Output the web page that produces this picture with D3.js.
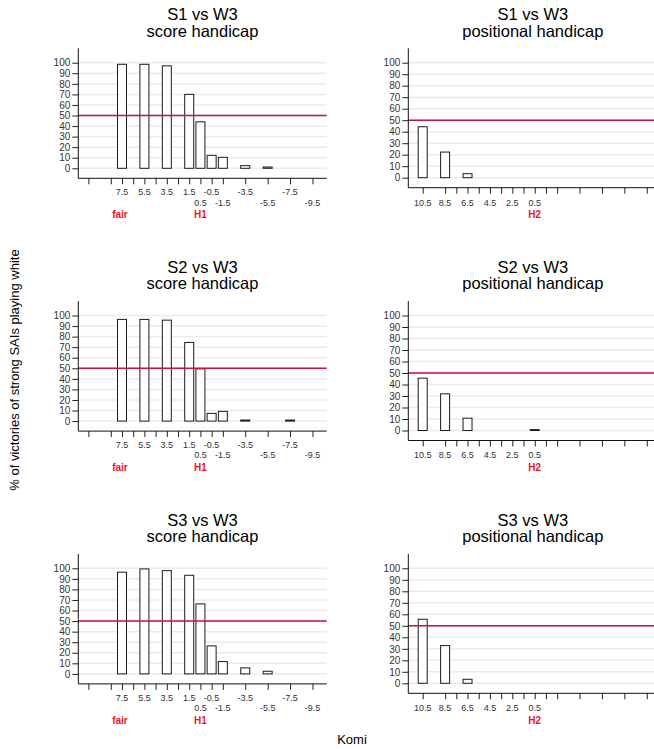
<!DOCTYPE html>
<html>
<head>
<meta charset="utf-8">
<script src="https://cdn.jsdelivr.net/npm/d3@7"></script>
<style>
  body { margin: 0; background: #fff; }
  svg { font-family: "Liberation Sans", Arial, sans-serif; }
</style>
</head>
<body>
<div id="chart"></div>
<script>
// komi values tested
var scoreKomi = [7.5, 5.5, 3.5, 1.5, 0.5, -0.5, -1.5, -3.5, -5.5, -7.5, -9.5];
var posKomi = [10.5, 8.5, 6.5, 4.5, 2.5, 0.5];
var tickKomi = [10.5, 8.5, 7.5, 6.5, 5.5, 4.5, 3.5, 2.5, 1.5, 0.5, -0.5, -1.5, -3.5, -5.5, -7.5, -9.5];
var yTicks = [0, 10, 20, 30, 40, 50, 60, 70, 80, 90, 100];

// score labels split on two rows
var scoreLabelsTop = [7.5, 5.5, 3.5, 1.5, -0.5, -3.5, -7.5];
var scoreLabelsBottom = [0.5, -1.5, -5.5, -9.5];
var posLabels = [10.5, 8.5, 6.5, 4.5, 2.5, 0.5];

// % of victories of strong SAI playing white
var s1Score = [98.5, 98.5, 97, 70, 44, 12.3, 10.4, 2.5, 1.2, 0, 0];
var s2Score = [96.3, 96.3, 95.6, 74.5, 49.5, 7.3, 9.2, 1, 0, 1, 0];
var s3Score = [96.3, 99.4, 97.8, 93.4, 66.3, 26.5, 11.7, 5.7, 2.5, 0, 0];
var s1Pos = [44.3, 22.3, 3.5, 0, 0, 0];
var s2Pos = [45.5, 31.9, 10.7, 0, 0, 0.8];
var s3Pos = [55.7, 32.8, 3.5, 0, 0, 0];

var players = ["S1", "S2", "S3"];
var scoreSeries = [s1Score, s2Score, s3Score];
var posSeries = [s1Pos, s2Pos, s3Pos];

var width = 654, height = 749;
var rowStep = 252.8;

var svg = d3.select("#chart").append("svg")
  .attr("width", width)
  .attr("height", height);

function drawPanel(opt) {
  var g = svg.append("g");

  var x = d3.scaleLinear()
    .domain(opt.xDomain)
    .range([opt.left, opt.right]);

  // fixed pixel padding below 0 and above 100
  var y = d3.scaleLinear()
    .domain([0, 100])
    .range([opt.bottom - 10, opt.top + 14.4]);

  // grid
  g.append("g").selectAll("line")
    .data(yTicks)
    .enter().append("line")
    .attr("x1", opt.left)
    .attr("x2", opt.right)
    .attr("y1", function(d) { return y(d); })
    .attr("y2", function(d) { return y(d); })
    .attr("stroke", "#ebebeb")
    .attr("stroke-width", 1.5);

  // bars
  var bw = 9;
  var bars = opt.komi.map(function(k, i) { return {k: k, v: opt.values[i]}; })
    .filter(function(d) { return d.v > 0; });

  g.append("g").selectAll("rect")
    .data(bars)
    .enter().append("rect")
    .attr("x", function(d) { return x(d.k) - bw / 2; })
    .attr("width", bw)
    .attr("y", function(d) { return y(d.v); })
    .attr("height", function(d) { return y(0) - y(d.v); })
    .attr("fill", "#fff")
    .attr("stroke", "#1a1a1a")
    .attr("stroke-width", 1);

  // 50% line
  g.append("line")
    .attr("x1", opt.left)
    .attr("x2", opt.right)
    .attr("y1", y(50))
    .attr("y2", y(50))
    .attr("stroke", "#cc1040")
    .attr("stroke-width", 1.5);

  // y axis
  var yAxis = g.append("g")
    .attr("transform", "translate(" + opt.left + ",0)")
    .call(d3.axisLeft(y).tickValues(yTicks).tickSize(6).tickPadding(2));
  yAxis.select(".domain").remove();
  yAxis.selectAll("text").attr("font-size", 10).attr("fill", "#333")
    .attr("font-family", "Liberation Sans, Arial, sans-serif");
  yAxis.selectAll(".tick line").attr("stroke", "#222");

  // x axis ticks
  var xAxis = g.append("g")
    .attr("transform", "translate(0," + opt.bottom + ")")
    .call(d3.axisBottom(x).tickValues(tickKomi).tickFormat("").tickSize(6).tickSizeOuter(0));
  xAxis.select(".domain").remove();
  xAxis.selectAll(".tick line").attr("stroke", "#222");

  // axis lines
  g.append("line")
    .attr("x1", opt.left).attr("x2", opt.left)
    .attr("y1", opt.top).attr("y2", opt.bottom)
    .attr("stroke", "#111");
  g.append("line")
    .attr("x1", opt.left).attr("x2", opt.right)
    .attr("y1", opt.bottom).attr("y2", opt.bottom)
    .attr("stroke", "#111");

  // tick labels
  opt.labelRows.forEach(function(row) {
    g.append("g").selectAll("text")
      .data(row.values)
      .enter().append("text")
      .attr("x", function(d) { return x(d); })
      .attr("y", row.y)
      .attr("text-anchor", "middle")
      .attr("font-size", 9)
      .attr("fill", "#333")
      .text(function(d) { return d; });
  });

  // red markers
  g.append("g").selectAll("text")
    .data(opt.marks)
    .enter().append("text")
    .attr("x", function(d) { return x(d.k) + (d.dx || 0); })
    .attr("y", opt.markY)
    .attr("text-anchor", "middle")
    .attr("font-size", 10)
    .attr("font-weight", "bold")
    .attr("fill", "#f0141e")
    .text(function(d) { return d.label; });

  // titles
  var cx = (opt.left + opt.right) / 2;
  g.append("text")
    .attr("x", cx).attr("y", opt.titleY)
    .attr("text-anchor", "middle")
    .attr("font-size", 16.5)
    .text(opt.title1);
  g.append("text")
    .attr("x", cx).attr("y", opt.titleY + 16.5)
    .attr("text-anchor", "middle")
    .attr("font-size", 16.5)
    .text(opt.title2);
}

players.forEach(function(p, i) {
  var dy = i * rowStep;
  drawPanel({
    left: 78.3, right: 326.7,
    top: 48.3 + dy, bottom: 178.3 + dy,
    xDomain: [11.4, -10.77],
    komi: scoreKomi,
    values: scoreSeries[i],
    labelRows: [
      {values: scoreLabelsTop, y: 195 + dy},
      {values: scoreLabelsBottom, y: 205.5 + dy}
    ],
    marks: [{k: 7.5, label: "fair", dx: -2}, {k: 0.5, label: "H1"}],
    markY: 218 + dy,
    titleY: 20 + dy,
    title1: p + " vs W3",
    title2: "score handicap"
  });
  drawPanel({
    left: 408.3, right: 657.4,
    top: 48.3 + dy, bottom: 187.7 + dy,
    xDomain: [11.786, -10.45],
    komi: posKomi,
    values: posSeries[i],
    labelRows: [
      {values: posLabels, y: 205.5 + dy}
    ],
    marks: [{k: 0.5, label: "H2"}],
    markY: 218 + dy,
    titleY: 20 + dy,
    title1: p + " vs W3",
    title2: "positional handicap"
  });
});

// shared axis titles
svg.append("text")
  .attr("transform", "translate(19,370) rotate(-90)")
  .attr("text-anchor", "middle")
  .attr("font-size", 13)
  .text("% of victories of strong SAIs playing white");

svg.append("text")
  .attr("x", 352)
  .attr("y", 744)
  .attr("text-anchor", "middle")
  .attr("font-size", 13)
  .text("Komi");
</script>
</body>
</html>
